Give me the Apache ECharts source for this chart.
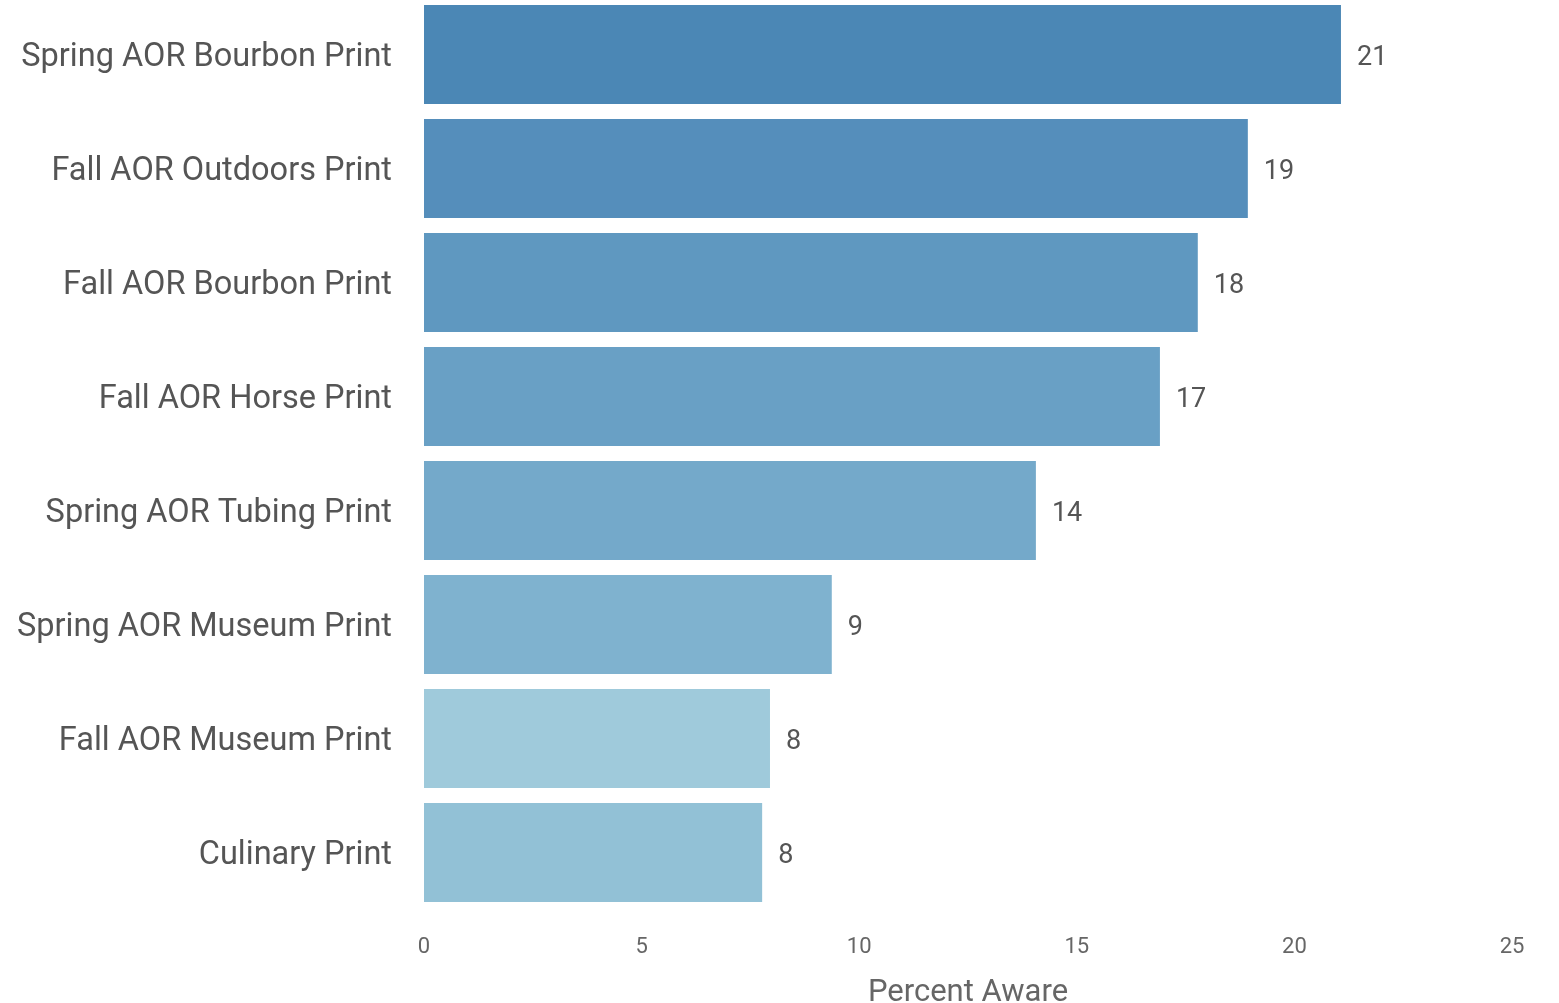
<!DOCTYPE html>
<html><head><meta charset="utf-8">
<script src="https://cdn.jsdelivr.net/npm/echarts@6/dist/echarts.min.js"></script>
<style>html,body{margin:0;padding:0;background:#fff}#c{width:1559px;height:1003px}</style>
</head><body><div id="c"></div>
<script>
const categories = ["Spring AOR Bourbon Print","Fall AOR Outdoors Print","Fall AOR Bourbon Print","Fall AOR Horse Print","Spring AOR Tubing Print","Spring AOR Museum Print","Fall AOR Museum Print","Culinary Print"];
const values = [21.07, 18.93, 17.78, 16.91, 14.06, 9.37, 7.95, 7.77];
const barColors = ["#4B87B5","#558EBB","#5F98C0","#69A0C5","#74A9CA","#7FB2CF","#9FCADB","#92C1D6"];
const xTicks = [0,5,10,15,20,25];
const font = "Roboto";
const chart = echarts.init(document.getElementById('c'));
chart.setOption({
  animation:false,
  grid:{left:424,right:47,top:-2.5,bottom:93.5,containLabel:false,outerBoundsMode:'none'},
  xAxis:{type:'value',min:xTicks[0],max:xTicks[xTicks.length-1],interval:5,
    axisLine:{show:false},axisTick:{show:false},splitLine:{show:false},
    axisLabel:{color:'#666',fontSize:22,fontFamily:font,margin:27},
    name:'Percent Aware',nameLocation:'middle',nameGap:68,
    nameTextStyle:{color:'#666',fontSize:31,fontFamily:font}},
  yAxis:{type:'category',data:categories,inverse:true,
    axisLine:{show:false},axisTick:{show:false},
    axisLabel:{margin:32,formatter:v=>'{a|'+v+'}',
      rich:{a:{color:'#555',fontSize:32.5,fontFamily:font,padding:[6,0,0,0]}}}},
  series:[{type:'bar',barCategoryGap:'13%',
    data:values.map((v,i)=>({value:v,itemStyle:{color:barColors[i]}})),
    label:{show:true,position:'right',distance:16,offset:[0,4],color:'#555',fontSize:27,fontFamily:font,
      formatter:p=>Math.round(p.value)}}]
});
</script></body></html>
